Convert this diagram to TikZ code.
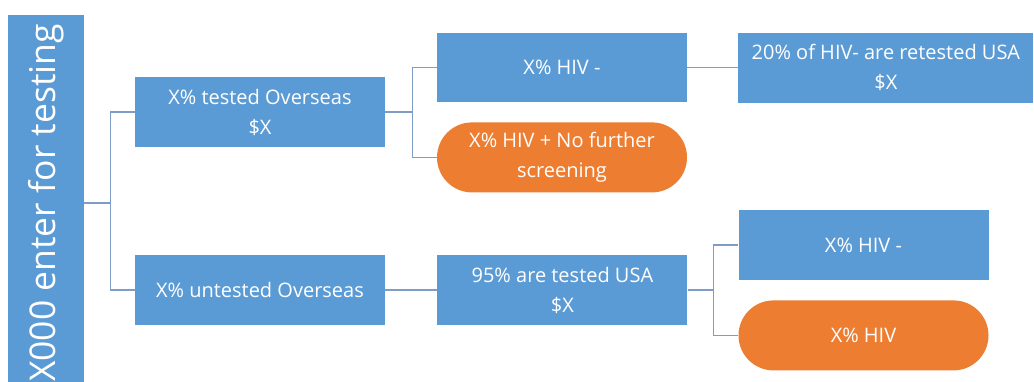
\documentclass[tikz,border=0pt]{standalone}
\usepackage{fontspec}
\setmainfont{Open Sans}
\usetikzlibrary{positioning}
\definecolor{boxblue}{HTML}{5B9BD5}
\definecolor{boxorange}{HTML}{ED7D31}
\definecolor{linkgray}{HTML}{7F9CC4}

\begin{document}
\begin{tikzpicture}[x=1pt, y=-1pt,
	box/.style={fill=boxblue, text=white, minimum width=250pt, minimum height=70pt,
		align=center, inner sep=0pt, font=\fontsize{20}{30}\selectfont},
	pill/.style={box, fill=boxorange, rounded corners=35pt},
	link/.style={draw=linkgray, line width=1.3pt}]
	\useasboundingbox (0,0) rectangle (1034,381);
	\clip (0,0) rectangle (1034,381);
	\node[box, rotate=90, minimum width=376pt, minimum height=76pt,
		font=\fontsize{35.5}{40}\selectfont] (start) at (46,203) {X000 enter for testing};

	\node[box] (tested) at (260,112) {X\% tested Overseas\\\$X};
	\node[box] (untested) at (260,290) {X\% untested Overseas};
	\node[box, minimum height=69pt] (neg1) at (562,67.5) {X\% HIV -};
	\node[pill, below=20pt of neg1] (pos1) {X\% HIV + No further\\screening};
	\node[box, minimum width=295pt, right=51pt of neg1] (retest) {20\% of HIV- are retested USA\\\$X};
	\node[box, right=52pt of untested] (usa) {95\% are tested USA\\\$X};
	\node[box] (neg2) at (863.5,245) {X\% HIV -};
	\node[pill, below=20pt of neg2] (pos2) {X\% HIV};

	\draw[link] (start.south) -- ++(26,0) coordinate (j1) |- (tested.west);
	\draw[link] (j1) |- (untested.west);
	\draw[link] (tested.east) -- ++(27,0) coordinate (j2) |- (neg1.west);
	\draw[link] (j2) |- (pos1.west);
	\draw[link] (neg1.east) -- (retest.west);
	\draw[link] (untested.east) -- (usa.west);
	\draw[link] (usa.east) -- ++(26,0) coordinate (j3) |- (neg2.west);
	\draw[link] (j3) |- (pos2.west);
\end{tikzpicture}
\end{document}
